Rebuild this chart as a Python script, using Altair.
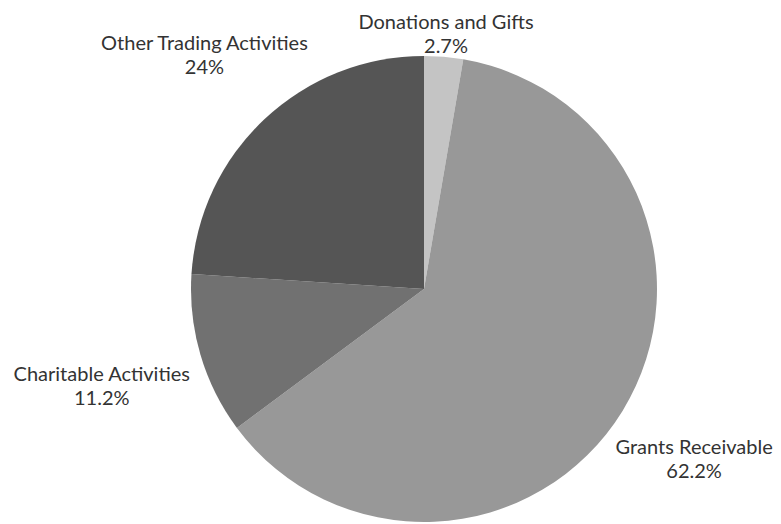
import altair as alt
import pandas as pd

categories = ["Donations and Gifts", "Grants Receivable", "Charitable Activities", "Other Trading Activities"]
values = [2.7, 62.2, 11.2, 24.0]
pct_labels = ["2.7%", "62.2%", "11.2%", "24%"]
colors = ["#c4c4c4", "#989898", "#717171", "#555555"]

df = pd.DataFrame({
    "category": categories,
    "value": values,
    "pct": pct_labels,
    "idx": list(range(len(categories))),
})
total = float(sum(values))

CX, CY, R = 416, 281, 233
label_radius = {
    "Donations and Gifts": 260,
    "Grants Receivable": 317,
    "Charitable Activities": 336,
    "Other Trading Activities": 321,
}
label_dy = {
    "Donations and Gifts": -7,
    "Grants Receivable": -7,
    "Charitable Activities": -9,
    "Other Trading Activities": -11,
}

theta_scale = alt.Scale(domain=[0, total], range=[0, 6.283185307179586])

base = alt.Chart(df).transform_window(
    end="sum(value)", sort=[alt.SortField("idx")], frame=[None, 0]
).transform_calculate(
    start="datum.end - datum.value",
    mid="datum.end - datum.value / 2",
    label="datum.category + '\\n' + datum.pct",
)

pie = base.mark_arc(outerRadius=R, stroke=None).encode(
    theta=alt.Theta("start:Q", scale=theta_scale),
    theta2="end:Q",
    x=alt.value(CX),
    y=alt.value(CY),
    color=alt.Color("category:N",
                    scale=alt.Scale(domain=categories, range=colors),
                    legend=None),
)

layers = [pie]
for cat in categories:
    layers.append(
        base.transform_filter(alt.datum.category == cat).mark_text(
            font="Lato", fontSize=20, color="#333333", align="center",
            baseline="middle", lineBreak="\n", lineHeight=24,
            radius=label_radius[cat], dy=label_dy[cat],
        ).encode(
            theta=alt.Theta("mid:Q", scale=theta_scale),
            x=alt.value(CX),
            y=alt.value(CY),
            text="label:N",
        )
    )

chart = alt.layer(*layers).properties(
    width=765, height=516,
    autosize=alt.AutoSizeParams(type="none"),
    padding=0,
).configure_view(stroke=None)

chart.save("out.html", embed_options={"renderer": "svg", "actions": False})
